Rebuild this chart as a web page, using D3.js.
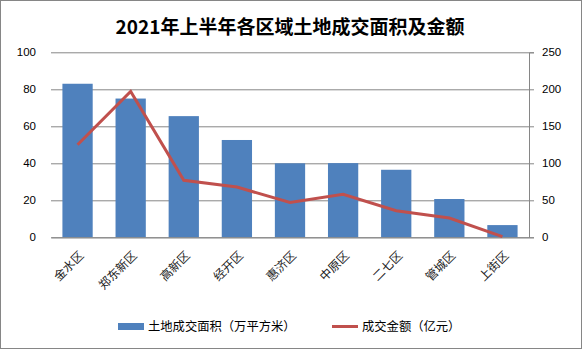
<!DOCTYPE html>
<html><head><meta charset="utf-8">
<script src="https://cdn.jsdelivr.net/npm/d3@7"></script>
<style>body{margin:0;background:#fff}svg{display:block}</style>
</head><body>
<svg id="c" width="582" height="349"></svg>
<script>
const categories = ["金水区","郑东新区","高新区","经开区","惠济区","中原区","二七区","管城区","上街区"];
const areaValues = [83, 75, 65.5, 52.6, 40, 40.1, 36.5, 20.7, 6.6];
const amountValues = [125, 197, 77, 68, 47, 58, 36, 26, 1];
const leftTicks = [0, 20, 40, 60, 80, 100];
const rightTicks = [0, 50, 100, 150, 200, 250];
const title = "2021年上半年各区域土地成交面积及金额";
const seriesNames = ["土地成交面积（万平方米）", "成交金额（亿元）"];

const svg = d3.select("#c");
const W = 582, H = 349;
const m = {l: 51, r: 529, t: 52.3, b: 237.3};
const grid = "#868686";
const numFont = "'Liberation Sans', Arial, sans-serif";
const cjk = "'Noto Sans CJK SC', sans-serif";

svg.append("rect").attr("x",0.5).attr("y",0.5).attr("width",W-1).attr("height",H-1)
  .attr("fill","#fff").attr("stroke",grid).attr("stroke-width",1);

svg.append("text").attr("x",290).attr("y",34).attr("text-anchor","middle")
  .attr("font-family",cjk).attr("font-weight","bold").attr("font-size",19)
  .attr("fill","#000").text(title);

const x = d3.scaleBand().domain(categories).range([m.l, m.r]).paddingInner(0.43).paddingOuter(0.215);
const xc = d3.scaleBand().domain(categories).range([m.l, m.r]);
const yL = d3.scaleLinear().domain([0,100]).range([m.b, m.t]);
const yR = d3.scaleLinear().domain([0,250]).range([m.b, m.t]);

const gl = svg.append("g").attr("transform",`translate(${m.l},0)`)
  .call(d3.axisLeft(yL).tickValues(leftTicks).tickSize(-(m.r-m.l)).tickPadding(15));
gl.select(".domain").remove();
gl.selectAll(".tick line").attr("stroke",grid).attr("stroke-width",1);
gl.selectAll(".tick text").attr("font-family",numFont).attr("font-size",11.5).attr("fill","#000");

svg.append("g").selectAll("rect").data(categories).join("rect")
  .attr("x", d => x(d)).attr("width", x.bandwidth())
  .attr("y", (d,i) => yL(areaValues[i])).attr("height", (d,i) => m.b - yL(areaValues[i]))
  .attr("fill","#4F81BD");

const gx = svg.append("g").attr("transform",`translate(0,${m.b})`)
  .call(d3.axisBottom(xc).tickSize(0).tickPadding(0));
gx.select(".domain").attr("stroke",grid);
gx.selectAll(".tick text").attr("font-family",cjk).attr("font-size",12).attr("fill","#222")
  .attr("text-anchor","end").attr("dy",0)
  .attr("transform","translate(7,19) rotate(-45)");

const gr = svg.append("g").attr("transform",`translate(${m.r},0)`)
  .call(d3.axisRight(yR).tickValues(rightTicks).tickSize(5).tickPadding(8));
gr.select(".domain").attr("stroke",grid);
gr.selectAll(".tick line").attr("stroke",grid);
gr.selectAll(".tick text").attr("font-family",numFont).attr("font-size",11.5).attr("fill","#000");

const line = d3.line().x((d,i) => xc(categories[i]) + xc.bandwidth()/2).y(d => yR(d));
svg.append("path").datum(amountValues).attr("d", line)
  .attr("fill","none").attr("stroke","#C0504D").attr("stroke-width",3).attr("stroke-linejoin","miter");

const lg = svg.append("g");
lg.append("rect").attr("x",118).attr("y",323).attr("width",26).attr("height",7).attr("fill","#4F81BD");
lg.append("text").attr("x",148).attr("y",331).attr("font-family",cjk).attr("font-size",12.3).attr("fill","#000").text(seriesNames[0]);
lg.append("line").attr("x1",332).attr("x2",358).attr("y1",326.5).attr("y2",326.5).attr("stroke","#C0504D").attr("stroke-width",3);
lg.append("text").attr("x",362).attr("y",331).attr("font-family",cjk).attr("font-size",12.3).attr("fill","#000").text(seriesNames[1]);
</script>
</body></html>
